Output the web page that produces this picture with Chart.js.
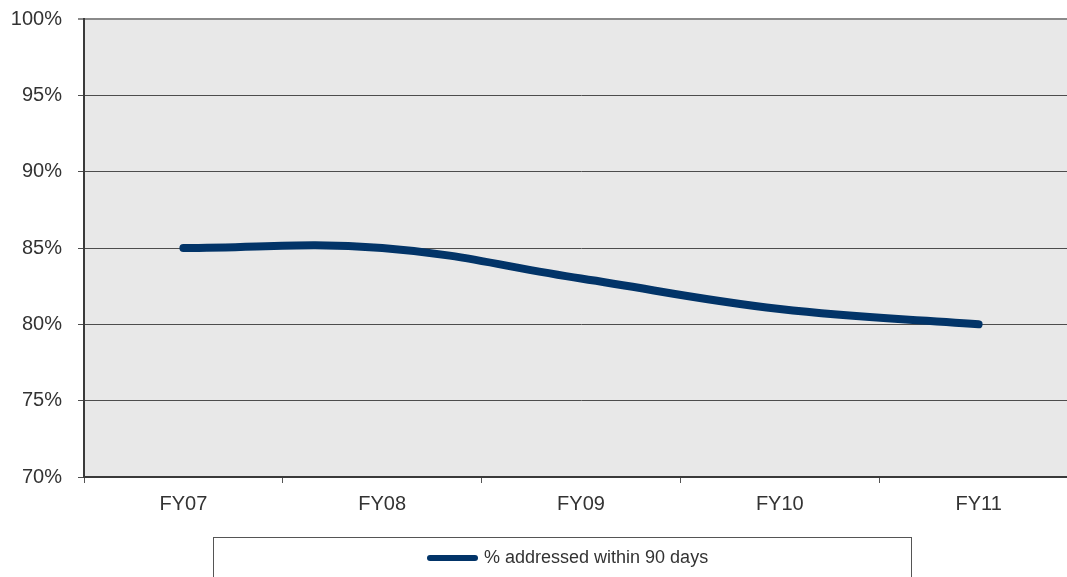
<!DOCTYPE html>
<html>
<head>
<meta charset="utf-8">
<script src="https://cdn.jsdelivr.net/npm/chart.js@4/dist/chart.umd.min.js"></script>
<style>
  html, body { margin: 0; padding: 0; background: #ffffff; overflow: hidden; }
  #wrap { width: 1078px; height: 577px; }
</style>
</head>
<body>
<div id="wrap"><canvas id="c" width="1078" height="577"></canvas></div>
<script>
// Fiscal years shown on the horizontal axis
const categories = ['FY07', 'FY08', 'FY09', 'FY10', 'FY11'];
// Share of items addressed within 90 days, in percent
const addressedPct = [85, 85, 83, 81, 80];
const seriesLabel = '% addressed within 90 days';
// Value axis range and step
const yMin = 70;
const yMax = 100;
const yStep = 5;

const LINE_COLOR = '#023468';
const TEXT_COLOR = '#333333';
const FONT = '"Liberation Sans", Arial, sans-serif';

// Grey plot background
const plotBackground = {
  id: 'plotBackground',
  beforeDraw(chart) {
    const { ctx, chartArea: a } = chart;
    ctx.save();
    ctx.fillStyle = '#e8e8e8';
    ctx.fillRect(a.left, a.top, a.right - a.left, a.bottom - a.top);
    ctx.restore();
  }
};

// Boxed legend below the axis
const boxedLegend = {
  id: 'boxedLegend',
  afterDraw(chart) {
    const ctx = chart.ctx;
    const ds = chart.data.datasets[0];
    ctx.save();
    ctx.strokeStyle = '#555555';
    ctx.lineWidth = 1;
    ctx.strokeRect(213.5, 537.5, 698, 60);
    ctx.strokeStyle = ds.borderColor;
    ctx.lineWidth = 6;
    ctx.lineCap = 'round';
    ctx.beginPath();
    ctx.moveTo(430, 558);
    ctx.lineTo(475, 558);
    ctx.stroke();
    ctx.fillStyle = TEXT_COLOR;
    ctx.font = '18px ' + FONT;
    ctx.textAlign = 'left';
    ctx.textBaseline = 'middle';
    ctx.fillText(ds.label, 484, 558);
    ctx.restore();
  }
};

new Chart(document.getElementById('c'), {
  type: 'line',
  data: {
    labels: categories,
    datasets: [{
      label: seriesLabel,
      data: addressedPct,
      borderColor: LINE_COLOR,
      backgroundColor: LINE_COLOR,
      borderWidth: 8,
      borderCapStyle: 'round',
      borderJoinStyle: 'round',
      tension: 0.4,
      pointRadius: 0,
      pointHoverRadius: 0,
      fill: false
    }]
  },
  options: {
    responsive: false,
    devicePixelRatio: 1,
    animation: false,
    events: [],
    layout: { padding: { top: 19, right: 0, bottom: 0, left: 0 } },
    plugins: {
      legend: { display: false },
      tooltip: { enabled: false }
    },
    scales: {
      x: {
        type: 'category',
        offset: true,
        grid: {
          offset: true,
          drawOnChartArea: false,
          drawTicks: true,
          tickLength: 6,
          color: '#555555',
          lineWidth: 1
        },
        border: { display: true, color: '#3a3a3a', width: 2 },
        ticks: {
          color: TEXT_COLOR,
          font: { family: FONT, size: 20 },
          padding: 9,
          maxRotation: 0,
          autoSkip: false
        },
        afterFit(scale) {
          scale.height = 100;
          scale.paddingLeft = 0;
          scale.paddingRight = 0;
        }
      },
      y: {
        min: yMin,
        max: yMax,
        grid: {
          drawOnChartArea: true,
          drawTicks: true,
          tickLength: 6,
          color: (c) => c.tick && c.tick.value === yMax ? '#8a8a8a' : '#4d4d4d',
          lineWidth: (c) => c.tick && c.tick.value === yMax ? 2 : 1
        },
        border: { display: true, color: '#3a3a3a', width: 2 },
        ticks: {
          stepSize: yStep,
          color: TEXT_COLOR,
          font: { family: FONT, size: 20 },
          padding: 16,
          callback: (v) => v + '%'
        },
        afterFit(scale) {
          scale.width = 84;
          scale.paddingTop = 0;
          scale.paddingBottom = 0;
        }
      }
    }
  },
  plugins: [plotBackground, boxedLegend]
});
</script>
</body>
</html>
